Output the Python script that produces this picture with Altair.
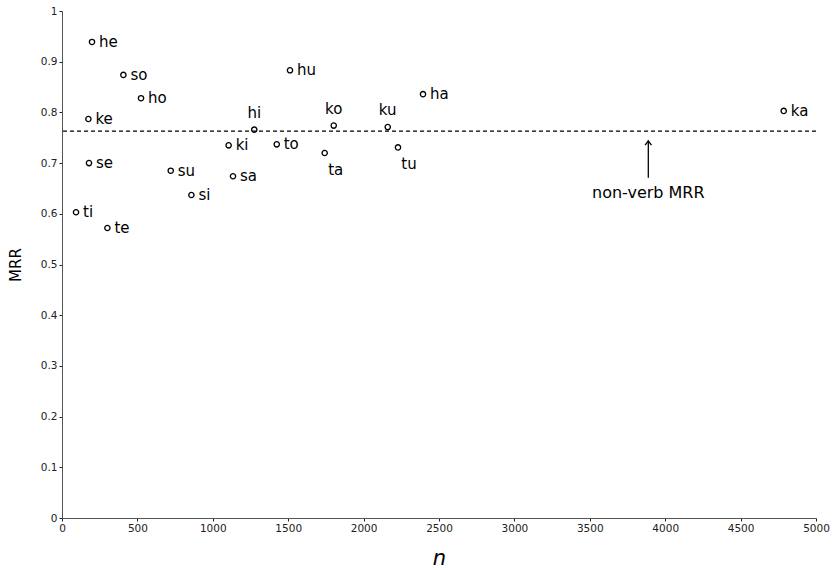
import altair as alt
import pandas as pd

# --- data ---
syllables = ["he", "so", "ho", "ke", "se", "ti", "te", "su", "si", "ki",
             "sa", "hi", "to", "hu", "ko", "ta", "ku", "tu", "ha", "ka"]
n_values = [199, 407, 524, 175, 179, 93, 301, 721, 858, 1105,
            1134, 1275, 1424, 1512, 1802, 1742, 2160, 2228, 2394, 4786]
mrr_values = [0.939, 0.874, 0.828, 0.787, 0.700, 0.603, 0.572, 0.685, 0.637, 0.735,
              0.674, 0.766, 0.737, 0.883, 0.774, 0.720, 0.771, 0.731, 0.836, 0.803]

labels_above = ["hi", "ko", "ku"]
labels_below = ["ta", "tu"]

nonverb_mrr = 0.763
arrow_n = 3888
arrow_top = 0.744
arrow_bottom = 0.671
annot_text = ["non-verb MRR"]
annot_y = 0.641

x_ticks = [0, 500, 1000, 1500, 2000, 2500, 3000, 3500, 4000, 4500, 5000]
y_ticks = [0, 0.1, 0.2, 0.3, 0.4, 0.5, 0.6, 0.7, 0.8, 0.9, 1.0]

df = pd.DataFrame({"syl": syllables, "n": n_values, "mrr": mrr_values})
df["pos"] = ["above" if s in labels_above else ("below" if s in labels_below else "right")
             for s in syllables]

FONT = "DejaVu Sans"
AX = "#555555"

xscale = alt.Scale(domain=[0, 5000], nice=False, zero=True)
yscale = alt.Scale(domain=[0, 1], nice=False)

xenc = alt.X("n:Q", scale=xscale,
             axis=alt.Axis(values=x_ticks, title="n", format="d", titleFontStyle="italic",
                           titleFontSize=21, titleFontWeight="normal", titleFont=FONT,
                           titleColor="#000", titlePadding=14,
                           labelFont=FONT, labelFontSize=10.5, labelColor="#222",
                           labelFlush=False, labelOverlap=False,
                           domainColor=AX, tickColor="#222", tickSize=3,
                           grid=False, labelPadding=2))
yenc = alt.Y("mrr:Q", scale=yscale,
             axis=alt.Axis(values=y_ticks, title="MRR",
                           labelExpr="datum.value == 0 ? '0' : datum.value == 1 ? '1' : format(datum.value, '.1f')",
                           titleFontSize=15, titleFontWeight="normal", titleFont=FONT,
                           titleColor="#000", titlePadding=17,
                           labelFont=FONT, labelFontSize=10.5, labelColor="#222",
                           labelFlush=False, labelOverlap=False,
                           domainColor=AX, tickColor="#222", tickSize=3, grid=False))

base = alt.Chart(df)

points = base.mark_point(shape="circle", filled=False, size=28, color="black",
                         strokeWidth=1.3, opacity=1).encode(x=xenc, y=yenc)

txt_right = base.transform_filter("datum.pos == 'right'").mark_text(
    align="left", baseline="middle", dx=7, dy=0, font=FONT, fontSize=15, color="black"
).encode(x="n:Q", y="mrr:Q", text="syl:N")

txt_above = base.transform_filter("datum.pos == 'above'").mark_text(
    align="center", baseline="middle", dx=0, dy=-17, font=FONT, fontSize=15, color="black"
).encode(x="n:Q", y="mrr:Q", text="syl:N")

txt_below = base.transform_filter("datum.pos == 'below'").mark_text(
    align="center", baseline="middle", dx=11, dy=17, font=FONT, fontSize=15, color="black"
).encode(x="n:Q", y="mrr:Q", text="syl:N")

hline = alt.Chart(pd.DataFrame({"mrr": [nonverb_mrr]})).mark_rule(
    color="black", strokeDash=[4, 3], strokeWidth=1.2
).encode(y="mrr:Q")

arrow_df = pd.DataFrame({"n": [arrow_n], "top": [arrow_top], "bottom": [arrow_bottom]})
arrow_shaft = alt.Chart(arrow_df).mark_rule(color="black", strokeWidth=1.3).encode(
    x="n:Q", y="top:Q", y2="bottom:Q")
arrow_head = alt.Chart(arrow_df).mark_point(
    shape="M -1 1.4 L 0 0 L 1 1.4", filled=False, size=40, color="black",
    strokeWidth=1.3, opacity=1
).encode(x="n:Q", y="top:Q")

annot = alt.Chart(pd.DataFrame({"n": [arrow_n], "mrr": [annot_y], "t": annot_text})).mark_text(
    align="center", baseline="middle", font=FONT, fontSize=16, color="black"
).encode(x="n:Q", y="mrr:Q", text="t:N")

chart = alt.layer(hline, points, txt_right, txt_above, txt_below,
                  arrow_shaft, arrow_head, annot).properties(
    width=754, height=507,
    background="white",
    autosize=alt.AutoSizeParams(type="none"),
    padding={"left": 62, "top": 11, "right": 16, "bottom": 52},
).configure_view(stroke=None)

chart.save("out.html", embed_options={"renderer": "svg", "actions": False})
